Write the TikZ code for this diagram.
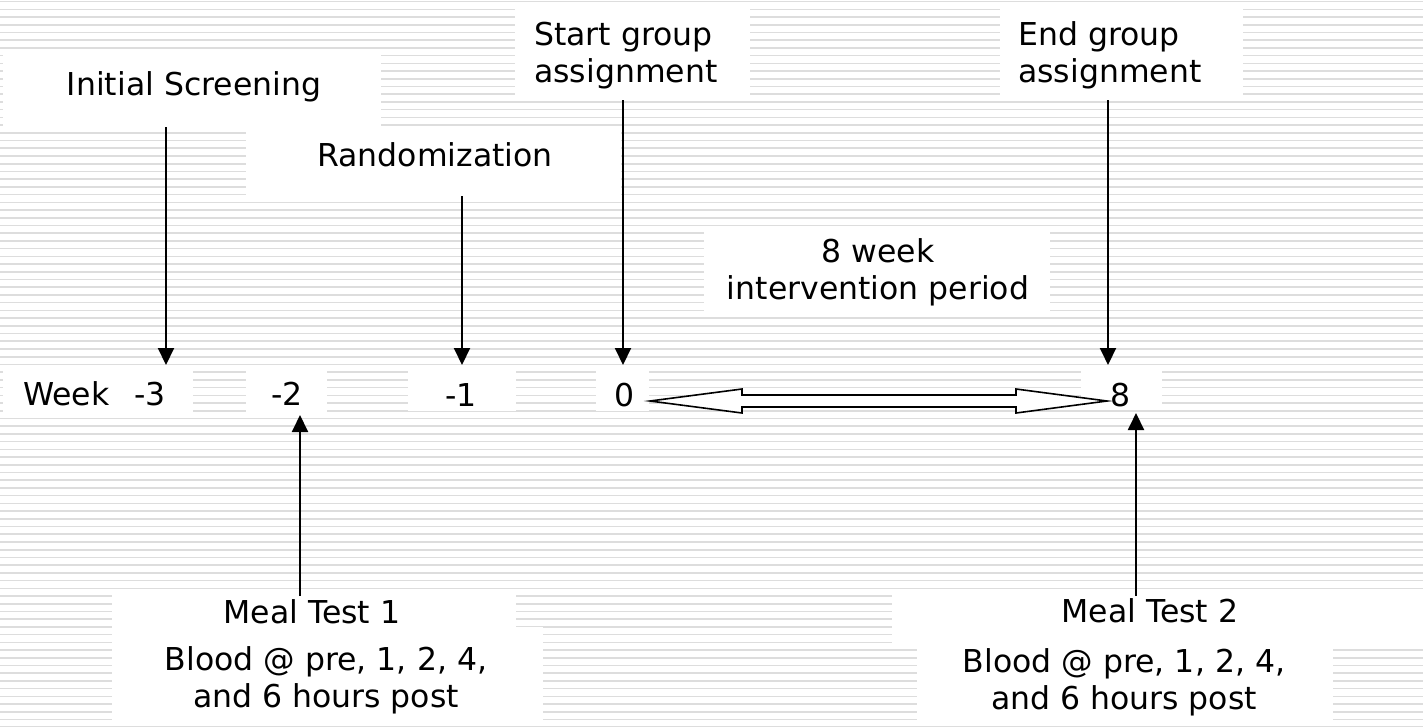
\documentclass[tikz,border=0pt]{standalone}
\usepackage{fontspec}
\setmainfont{DejaVu Sans}
\usetikzlibrary{arrows.meta,calc}
\definecolor{stripegray}{RGB}{221,221,221}
\begin{document}
\begin{tikzpicture}[x=1pt,y=-1pt,
  stripe/.style={line width=1.6pt, draw=stripegray},
  wbox/.style={fill=white, draw=none},
  lbl/.style={inner sep=0pt, font=\fontsize{31.5}{37.5}\selectfont},
  conn/.style={line width=2pt, -{Triangle[width=16pt,length=17pt]}},
  dbl/.style={line width=1.6pt, draw=black, fill=white, line join=miter},
]
\useasboundingbox (0,0) rectangle (1423,726);
\fill[white] (0,0) rectangle (1423,726);
% background stripes
\foreach \i in {0,...,94} {
  \draw[stripe] (0,{1.6+7.72*\i}) -- (1423,{1.6+7.72*\i});
}
% white text boxes
\fill[wbox] (3,50) rectangle (381,127);
\fill[wbox] (246,127) rectangle (621,195);
\fill[wbox] (515,3) rectangle (750,100);
\fill[wbox] (1000,3) rectangle (1243,100);
\fill[wbox] (704,226) rectangle (1050,317);
\fill[wbox] (3,368) rectangle (193,413);
\fill[wbox] (246,368) rectangle (327,413);
\fill[wbox] (408,366) rectangle (516,411);
\fill[wbox] (596,366) rectangle (649,411);
\fill[wbox] (1081,368) rectangle (1162,410);
\fill[wbox] (112,592) rectangle (516,627);
\fill[wbox] (112,627) rectangle (543,726);
\fill[wbox] (892,592) rectangle (1423,647);
\fill[wbox] (917,647) rectangle (1333,726);
% labels
\node[lbl, anchor=base] (tIS) at (194,95) {Initial Screening};
\node[lbl, anchor=base] (tRand) at (435,166) {Randomization};
\node[lbl, anchor=base west] (tStart) at (534,45) {\begin{tabular}[t]{@{}l@{}}Start group\\assignment\end{tabular}};
\node[lbl, anchor=base west] (tEnd) at (1018,45) {\begin{tabular}[t]{@{}l@{}}End group\\assignment\end{tabular}};
\node[lbl, anchor=base] (tEight) at (878,262) {\begin{tabular}[t]{@{}c@{}}8 week\\intervention period\end{tabular}};
\node[lbl, anchor=base west] (tW3) at (23,405) {Week\kern24.6pt-3};
\node[lbl, anchor=base] (tm2) at (287,405) {-2};
\node[lbl, anchor=base] (tm1) at (461,406) {-1};
\node[lbl, anchor=base] (t0) at (625,406) {0};
\node[lbl, anchor=base] (t8) at (1121,406) {8};
\node[lbl, anchor=base] (tMT1) at (312,623) {Meal Test 1};
\node[lbl, anchor=base] (tB1) at (326,670) {\begin{tabular}[t]{@{}c@{}}Blood @ pre, 1, 2, 4,\\and 6 hours post\end{tabular}};
\node[lbl, anchor=base] (tMT2) at (1150,622) {Meal Test 2};
\node[lbl, anchor=base] (tB2) at (1124,672) {\begin{tabular}[t]{@{}c@{}}Blood @ pre, 1, 2, 4,\\and 6 hours post\end{tabular}};
% connector end points
\coordinate (a1s) at (166,127); \coordinate (a1e) at (166,365);
\coordinate (a2s) at (462,196); \coordinate (a2e) at (462,365);
\coordinate (a3s) at (623,100); \coordinate (a3e) at (623,365);
\coordinate (a4s) at (1108,100); \coordinate (a4e) at (1108,365);
\coordinate (a5s) at (300,596); \coordinate (a5e) at (300,415);
\coordinate (a6s) at (1136,596); \coordinate (a6e) at (1136,413);
\draw[conn] (a1s) -- (a1e);
\draw[conn] (a2s) -- (a2e);
\draw[conn] (a3s) -- (a3e);
\draw[conn] (a4s) -- (a4e);
\draw[conn] (a5s) -- (a5e);
\draw[conn] (a6s) -- (a6e);
% double block arrow between week 0 and week 8
\coordinate (dl) at (650,401);
\coordinate (dr) at (1107,401);
\draw[dbl] (dl) -- ($(dl)+(92,-12)$) -- ($(dl)+(92,-6)$) -- ($(dr)+(-91,-6)$) -- ($(dr)+(-91,-12)$)
  -- (dr) -- ($(dr)+(-91,12)$) -- ($(dr)+(-91,6)$) -- ($(dl)+(92,6)$) -- ($(dl)+(92,12)$) -- cycle;
\end{tikzpicture}
\end{document}
